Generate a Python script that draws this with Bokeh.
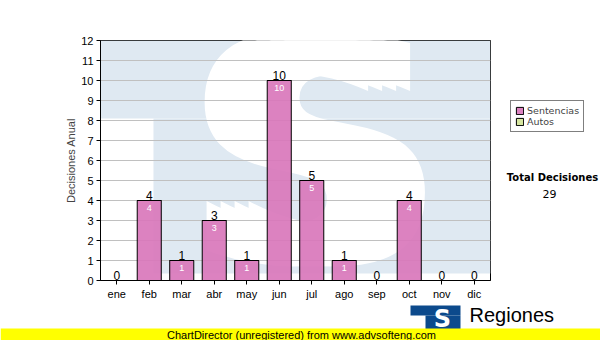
from bokeh.plotting import figure
from bokeh.layouts import column, row
from bokeh.models import (ColumnDataSource, FactorRange, Range1d, FixedTicker,
                          Legend, LegendItem)
from bokeh.core.properties import value
from bokeh.embed import file_html
from bokeh.resources import INLINE

meses = ["ene", "feb", "mar", "abr", "may", "jun", "jul", "ago", "sep", "oct", "nov", "dic"]
sentencias = [0, 4, 1, 3, 1, 10, 5, 1, 0, 4, 0, 0]
autos = [0, 0, 0, 0, 0, 0, 0, 0, 0, 0, 0, 0]
y_ticks = [0, 1, 2, 3, 4, 5, 6, 7, 8, 9, 10, 11, 12]
series = ["Sentencias", "Autos"]
total = sum(sentencias) + sum(autos)

PINK = "#d977bb"
GREEN = "#d6e6a0"
WM = "#dfe9f2"
LOGO = "#0c4a8c"
FONT = "Liberation Sans"

totales = [s + a for s, a in zip(sentencias, autos)]
src = ColumnDataSource(dict(
    mes=meses, sent=sentencias, autos=autos, total=totales,
    top_txt=[str(t) for t in totales],
    in_txt=[str(s) if s > 0 else "" for s in sentencias],
))

# ---------------- main chart ----------------
p = figure(width=500, height=302, x_range=FactorRange(factors=meses),
           y_range=Range1d(0, 12), output_backend="svg", toolbar_location=None,
           title=None, min_border_left=100, min_border_right=10, min_border_top=40,
           min_border_bottom=22)
p.background_fill_color = "white"
p.border_fill_color = "white"
p.outline_line_color = "black"
p.outline_line_alpha = 1
p.outline_line_width = 1

# watermark (light blue block with white S)
p.quad(left=[0], right=[12], bottom=[8.1], top=[12], fill_color=WM, line_color=None, level="image")
p.quad(left=[1.63], right=[12], bottom=[0.35], top=[8.1], fill_color=WM, line_color=None, level="image")
for dx in (-21, -7, 7, 21):
    p.text(x=[6.6], y=[6.3], text=["S"], text_color="white", text_font=value("DejaVu Sans"),
           text_font_style="bold", text_font_size="310px", text_align="center",
           text_baseline="middle", x_offset=dx, level="image")

# bars
r_sent = p.vbar(x="mes", top="sent", bottom=0, width=0.74, source=src,
                fill_color=PINK, fill_alpha=0.92, line_color="black", line_width=1)
r_autos = p.vbar(x="mes", top="total", bottom="sent", width=0.74, source=src,
                 fill_color=GREEN, line_color="black", line_width=1)

p.text(x="mes", y="total", text="top_txt", source=src, text_align="center",
       text_baseline="bottom", text_font=value(FONT), text_font_size="12px",
       text_color="black", y_offset=-1)
p.text(x="mes", y="sent", text="in_txt", source=src, text_align="center",
       text_baseline="top", text_font=value(FONT), text_font_size="9px",
       text_color="white", y_offset=4)

p.xgrid.grid_line_color = None
p.ygrid.grid_line_color = "#c0c0c0"
p.ygrid.grid_line_width = 1
p.yaxis.ticker = FixedTicker(ticks=y_ticks)
p.yaxis.axis_label = "Decisiones Anual"
p.yaxis.axis_label_text_font = FONT
p.yaxis.axis_label_text_font_style = "normal"
p.yaxis.axis_label_text_font_size = "11px"
p.yaxis.axis_label_standoff = 1
for ax in (p.xaxis, p.yaxis):
    ax.major_label_text_font = FONT
    ax.major_label_text_font_size = "11px"
    ax.major_label_text_color = "black"
    ax.major_tick_in = 0
    ax.major_tick_out = 4
    ax.minor_tick_in = 0
    ax.minor_tick_out = 0
    ax.axis_line_color = "black"
    ax.major_tick_line_color = "black"
    ax.major_label_standoff = 3


def blank(w, h, y0):
    f = figure(width=w, height=h, x_range=Range1d(0, w), y_range=Range1d(y0 + h, y0),
               output_backend="svg", toolbar_location=None, title=None, min_border=0)
    f.axis.visible = False
    f.grid.visible = False
    f.outline_line_color = None
    f.background_fill_color = "white"
    f.border_fill_color = "white"
    return f


# ---------------- right side: legend + total ----------------
s = blank(100, 302, 0)
rs1 = s.quad(left=[-50], right=[-40], top=[-50], bottom=[-40], fill_color=PINK,
             fill_alpha=0.92, line_color="black")
rs2 = s.quad(left=[-50], right=[-40], top=[-50], bottom=[-40], fill_color=GREEN,
             line_color="black")
legend = Legend(items=[LegendItem(label=series[0], renderers=[rs1]),
                       LegendItem(label=series[1], renderers=[rs2])],
                location=(10, 148), orientation="vertical",
                label_text_font="DejaVu Sans", label_text_font_size="9.5px",
                glyph_width=9, glyph_height=9, label_height=11, label_standoff=3,
                spacing=0, padding=4, margin=0, border_line_color="black",
                border_line_width=1, background_fill_color="white",
                background_fill_alpha=1)
s.add_layout(legend, "center")
s.text(x=[52], y=[173], text=["Total Decisiones"], text_align="center",
       text_baseline="middle", text_font=value("DejaVu Sans"),
       text_font_style="bold", text_font_size="10px", text_color="black")
s.text(x=[49], y=[193], text=[str(total)], text_align="center",
       text_baseline="middle", text_font=value("DejaVu Sans"),
       text_font_size="11px", text_color="black")

# ---------------- bottom: logo + footer ----------------
b = blank(600, 38, 302)
b.quad(left=[410], right=[460], top=[305], bottom=[315], fill_color=LOGO, line_color=None)
b.quad(left=[425], right=[460], top=[315], bottom=[340], fill_color=LOGO, line_color=None)
b.text(x=[442], y=[318], text=["S"], text_align="center", text_baseline="middle",
       text_color="white", text_font=value("DejaVu Sans"), text_font_style="bold",
       text_font_size="24px")
b.text(x=[469], y=[314], text=["Regiones"], text_align="left",
       text_baseline="middle", text_font=value(FONT), text_font_size="20px",
       text_color="black")
b.quad(left=[0], right=[600], top=[328], bottom=[340], fill_color="#ffff00", line_color=None)
b.text(x=[301], y=[334], text=["ChartDirector (unregistered) from www.advsofteng.com"],
       text_align="center", text_baseline="middle", text_font=value(FONT),
       text_font_size="11px", text_color="black")

layout = column(row(p, s), b)
open("out.html", "w").write(file_html(layout, INLINE))
